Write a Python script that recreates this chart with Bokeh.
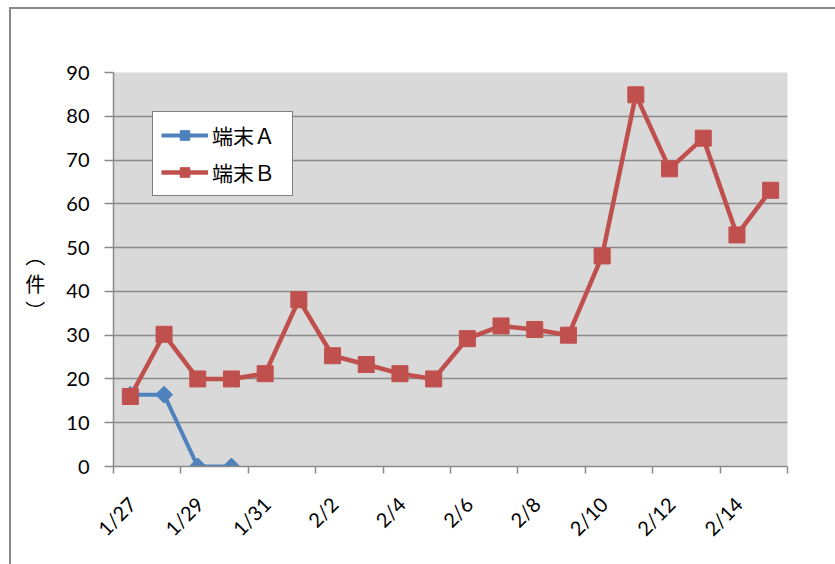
import math
from bokeh.plotting import figure
from bokeh.models import (Range1d, FixedTicker, LinearAxis, Legend, LegendItem,
                          ColumnDataSource)
from bokeh.embed import file_html
from bokeh.resources import INLINE

NaN = float("nan")

# ---- data ----
dates = ["1/27", "1/28", "1/29", "1/30", "1/31", "2/1", "2/2", "2/3", "2/4", "2/5",
         "2/6", "2/7", "2/8", "2/9", "2/10", "2/11", "2/12", "2/13", "2/14", "2/15"]
series_a = [16.4, 16.4, 0, 0, NaN, NaN, NaN, NaN, NaN, NaN,
            NaN, NaN, NaN, NaN, NaN, NaN, NaN, NaN, NaN, NaN]
series_b = [16.0, 30.2, 20.0, 20.0, 21.2, 38.1, 25.3, 23.3, 21.2, 20.0,
            29.2, 32.1, 31.3, 30.0, 48.1, 84.9, 68.0, 75.0, 52.9, 63.1]
name_a = "端末Ａ"
name_b = "端末Ｂ"
y_ticks = [0, 10, 20, 30, 40, 50, 60, 70, 80, 90]
y_unit = "\n︵\n件\n︶"

# ---- styles ----
BLUE = "#4f81bd"
RED = "#c0504d"
GRID = "#8a8a8a"
TICK_FONT = "Lato"
CJK_FONT = "Noto Sans CJK JP"
LABEL_SHIFT = 0.05

n = len(dates)
xs = [i + 0.5 for i in range(n)]
src = ColumnDataSource(dict(x=xs, a=series_a, b=series_b))

p = figure(width=835, height=564, output_backend="svg", toolbar_location=None,
           x_range=Range1d(0, n), y_range=Range1d(y_ticks[0], y_ticks[-1]),
           min_border_left=113, min_border_right=48, min_border_top=72,
           min_border_bottom=98)
# chart-area border (left & top edges only, the rest lies outside the window)
p.styles = {"background-color": "white",
            "box-shadow": "inset 9px 7px 0 0 white, inset 11px 9px 0 0 #898989"}
p.border_fill_color = None
p.background_fill_color = "#d9d9d9"
p.outline_line_color = None
p.xgrid.grid_line_color = None
p.ygrid.ticker = FixedTicker(ticks=y_ticks)
p.ygrid.grid_line_color = GRID
p.ygrid.grid_line_width = 1.5

# y axis
yax = p.yaxis[0]
yax.ticker = FixedTicker(ticks=y_ticks)
yax.axis_line_color = GRID
yax.axis_line_width = 1.5
yax.major_tick_line_color = GRID
yax.major_tick_line_width = 1.5
yax.major_tick_in = 0
yax.major_tick_out = 9
yax.minor_tick_line_color = None
yax.major_label_standoff = 15
yax.major_label_text_font = TICK_FONT
yax.major_label_text_font_size = "20px"
yax.major_label_text_color = "black"
yax.axis_label = y_unit
yax.axis_label_orientation = "horizontal"
yax.axis_label_standoff = 18
yax.axis_label_text_font = CJK_FONT
yax.axis_label_text_font_size = "20px"
yax.axis_label_text_line_height = 0.95
yax.axis_label_text_font_style = "normal"
yax.axis_label_text_color = "black"

# x axis: tick marks at category boundaries (every 2 days), no labels
xax = p.xaxis[0]
xax.ticker = FixedTicker(ticks=list(range(0, n + 1, 2)))
xax.axis_line_color = GRID
xax.axis_line_width = 1.5
xax.major_tick_line_color = GRID
xax.major_tick_line_width = 1.5
xax.major_tick_in = 0
xax.major_tick_out = 7
xax.minor_tick_line_color = None
xax.major_label_text_font_size = "1px"
xax.major_label_text_color = None
xax.major_label_standoff = 0

# x axis labels (every other date)
label_ticks = [xs[i] + LABEL_SHIFT for i in range(0, n, 2)]
lab_ax = LinearAxis(ticker=FixedTicker(ticks=label_ticks),
                    major_label_overrides={xs[i] + LABEL_SHIFT: dates[i]
                                           for i in range(0, n, 2)})
lab_ax.axis_line_color = None
lab_ax.major_tick_line_color = None
lab_ax.minor_tick_line_color = None
lab_ax.major_tick_in = 0
lab_ax.major_tick_out = 0
lab_ax.major_label_standoff = 27
lab_ax.major_label_orientation = math.pi / 4
lab_ax.major_label_text_font = TICK_FONT
lab_ax.major_label_text_font_size = "20px"
lab_ax.major_label_text_color = "black"
p.add_layout(lab_ax, "below")

# series
la = p.line("x", "a", source=src, color=BLUE, line_width=4)
sa = p.scatter("x", "a", source=src, marker="square", angle=math.pi / 4, size=12,
               fill_color=BLUE, line_color=BLUE)
lb = p.line("x", "b", source=src, color=RED, line_width=4.5)
sb = p.scatter("x", "b", source=src, marker="square", size=16,
               fill_color=RED, line_color=RED)

legend = Legend(items=[LegendItem(label=name_a, renderers=[la, sa]),
                       LegendItem(label=name_b, renderers=[lb, sb])],
                location="top_left", margin=39, padding=8, spacing=7,
                glyph_width=47, glyph_height=24, label_standoff=4,
                label_text_font=CJK_FONT, label_text_font_size="21px",
                label_text_color="black", label_height=24, label_width=72,
                border_line_color="black", border_line_width=1.5,
                background_fill_color="white", background_fill_alpha=1.0)
p.add_layout(legend)

open("out.html", "w").write(file_html(p, INLINE))
